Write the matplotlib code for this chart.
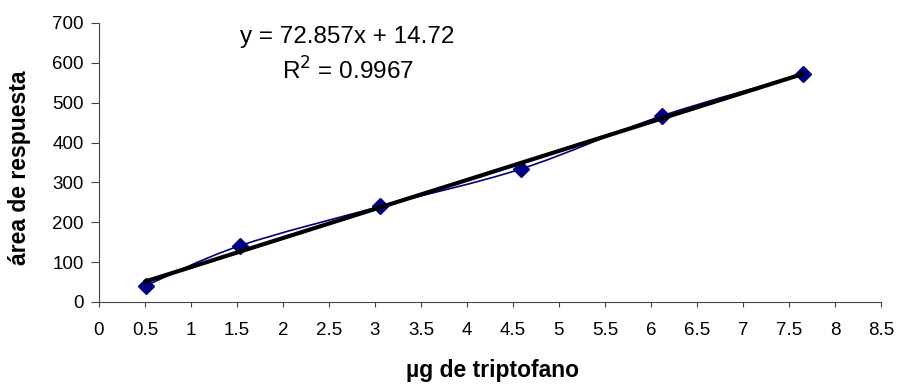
import matplotlib.pyplot as plt
import numpy as np
from matplotlib.path import Path
from matplotlib.patches import PathPatch

plt.rcParams['font.family'] = ['Liberation Sans', 'DejaVu Sans']

# data
ug_triptofano = np.array([0.51, 1.53, 3.06, 4.59, 6.12, 7.65])
area = np.array([41, 141, 240, 334, 467, 571])
slope, intercept = 72.857, 14.72

fig = plt.figure(figsize=(8.98, 3.85), dpi=100)
ax = fig.add_axes([0.1102, 0.2156, 0.8708, 0.7247])

# smoothed line through the points (Catmull-Rom as cubic Bezier, like Excel)
verts = [(ug_triptofano[0], area[0])]
codes = [Path.MOVETO]
n = len(ug_triptofano)
for i in range(n - 1):
    p0 = np.array([ug_triptofano[max(i - 1, 0)], area[max(i - 1, 0)]])
    p1 = np.array([ug_triptofano[i], area[i]])
    p2 = np.array([ug_triptofano[i + 1], area[i + 1]])
    p3 = np.array([ug_triptofano[min(i + 2, n - 1)], area[min(i + 2, n - 1)]])
    c1 = p1 + (p2 - p0) / 6
    c2 = p2 - (p3 - p1) / 6
    verts += [tuple(c1), tuple(c2), tuple(p2)]
    codes += [Path.CURVE4] * 3
ax.add_patch(PathPatch(Path(verts, codes), facecolor='none', edgecolor='#000080', lw=1.2, zorder=2))
ax.plot(ug_triptofano, area, linestyle='none', marker='D', markersize=8, color='#000080', zorder=3)

# linear trendline
xt = np.array([ug_triptofano[0], ug_triptofano[-1]])
ax.plot(xt, slope * xt + intercept, color='black', lw=3, zorder=4)

ax.text(0.318, 0.95, 'y = 72.857x + 14.72', transform=ax.transAxes, ha='center', va='center', fontsize=17.5)
ax.text(0.318, 0.828, 'R$^2$ = 0.9967', transform=ax.transAxes, ha='center', va='center', fontsize=17.5)

ax.set_xlim(0, 8.5)
ax.set_ylim(0, 700)
ax.set_xticks(np.arange(0, 8.51, 0.5))
ax.set_xticklabels([f'{v:g}' for v in np.arange(0, 8.51, 0.5)])
ax.set_yticks(np.arange(0, 701, 100))
ax.tick_params(direction='out', labelsize=13.5, color='#444444')
ax.tick_params(axis='x', length=3.6, pad=11)
ax.tick_params(axis='y', length=6, pad=5)
for s in ['top', 'right']:
    ax.spines[s].set_visible(False)
for s in ['left', 'bottom']:
    ax.spines[s].set_color('#444444')

fig.text(0.548, 1 - 371 / 385, 'µg de triptofano', fontsize=16.5, fontweight='bold', ha='center', va='center')
fig.text(20 / 898, 1 - 168 / 385, 'área de respuesta', fontsize=16.5, fontweight='bold',
         ha='center', va='center', rotation=90)

fig.savefig('out.png', dpi=100)
